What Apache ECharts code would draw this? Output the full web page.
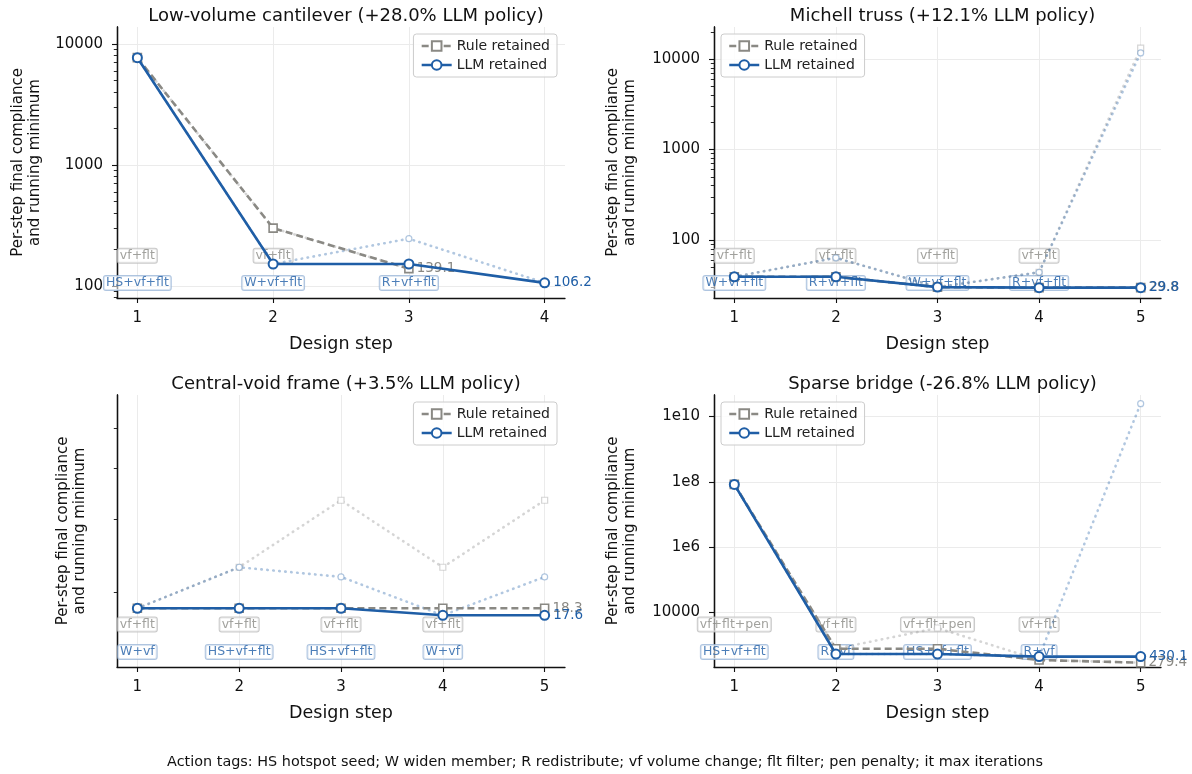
<!DOCTYPE html>
<html>
<head>
<meta charset="utf-8">
<script src="https://cdn.jsdelivr.net/npm/echarts@6/dist/echarts.min.js"></script>
<style>
html, body { margin: 0; padding: 0; background: #fff; }
#chart { width: 1192px; height: 774px; }
</style>
</head>
<body>
<div id="chart"></div>
<script>
var panelTitles = [
    'Low-volume cantilever (+28.0% LLM policy)',
    'Michell truss (+12.1% LLM policy)',
    'Central-void frame (+3.5% LLM policy)',
    'Sparse bridge (-26.8% LLM policy)'
];
var footNote = 'Action tags: HS hotspot seed; W widen member; R redistribute; vf volume change; flt filter; pen penalty; it max iterations';

var steps4 = [1, 2, 3, 4];
var steps5 = [1, 2, 3, 4, 5];

// Low-volume cantilever
var canRuleRetained = [7700, 301, 139.1];
var canLlmRetained = [7700, 152, 152, 106.2];
var canRuleStep = [7700, 301, 139.1];
var canLlmStep = [7700, 152, 246, 106.2];
var canRuleTags = ['vf+flt', 'vf+flt'];
var canLlmTags = ['HS+vf+flt', 'W+vf+flt', 'R+vf+flt'];

// Michell truss
var micRuleRetained = [39.3, 39.3, 30.2, 29.8, 29.8];
var micLlmRetained = [39.3, 39.3, 30.2, 29.8, 29.8];
var micRuleStep = [39.3, 63.7, 30.2, 44, 13200];
var micLlmStep = [39.3, 63.7, 30.2, 44, 11700];
var micRuleTags = ['vf+flt', 'vf+flt', 'vf+flt', 'vf+flt'];
var micLlmTags = ['W+vf+flt', 'R+vf+flt', 'W+vf+flt', 'R+vf+flt'];

// Central-void frame
var cvfRuleRetained = [18.3, 18.3, 18.3, 18.3, 18.3];
var cvfLlmRetained = [18.3, 18.3, 18.3, 17.6, 17.6];
var cvfRuleStep = [18.3, 23, 33.4, 23, 33.4];
var cvfLlmStep = [18.3, 23, 21.8, 17.6, 21.8];
var cvfRuleTags = ['vf+flt', 'vf+flt', 'vf+flt', 'vf+flt'];
var cvfLlmTags = ['W+vf', 'HS+vf+flt', 'HS+vf+flt', 'W+vf'];

// Sparse bridge
var brgRuleRetained = [8.3e7, 748, 748, 337, 279.4];
var brgLlmRetained = [8.3e7, 515, 515, 430.1, 430.1];
var brgRuleStep = [8.3e7, 748, 3240, 337, 279.4];
var brgLlmStep = [8.3e7, 515, 515, 430.1, 2.5e10];
var brgRuleTags = ['vf+flt+pen', 'vf+flt', 'vf+flt+pen', 'vf+flt'];
var brgLlmTags = ['HS+vf+flt', 'R+vf', 'HS+vf+flt', 'R+vf'];

// y tick marks and labels
var decadeTicks = [100, 1000, 10000];
var decadeLabels = ['100', '1000', '10000'];
var decadeMinor = [20, 30, 40, 50, 60, 70, 80, 90, 200, 300, 400, 500, 600, 700, 800, 900,
    2000, 3000, 4000, 5000, 6000, 7000, 8000, 9000, 20000];
var frameMinor = [20, 30, 40, 50];
var bridgeTicks = [1e4, 1e6, 1e8, 1e10];
var bridgeLabels = ['10000', '1e6', '1e8', '1e10'];

var ruleColor = '#8a8984';
var llmColor = '#1f5ea6';
var ruleFaint = 'rgba(150,150,150,0.4)';
var llmFaint = 'rgba(31,94,166,0.35)';
var font = 'DejaVu Sans';

var panels = [
    { grid: { left: 117, top: 27, width: 448, height: 271 }, steps: steps4, xMin: 0.85, xMax: 4.15,
      yMin: 79.6, yMax: 13800, ticks: decadeTicks, labels: decadeLabels, minor: decadeMinor, nameGap: 73,
      ruleRet: canRuleRetained, llmRet: canLlmRetained, ruleStep: canRuleStep, llmStep: canLlmStep,
      ruleTags: canRuleTags, llmTags: canLlmTags, legend: { right: 635, top: 34 } },
    { grid: { left: 714, top: 27, width: 447, height: 271 }, steps: steps5, xMin: 0.8, xMax: 5.2,
      yMin: 22.9, yMax: 22600, ticks: decadeTicks, labels: decadeLabels, minor: decadeMinor, nameGap: 75,
      ruleRet: micRuleRetained, llmRet: micLlmRetained, ruleStep: micRuleStep, llmStep: micLlmStep,
      ruleTags: micRuleTags, llmTags: micLlmTags, legend: { left: 721, top: 34 } },
    { grid: { left: 117, top: 395, width: 448, height: 272 }, steps: steps5, xMin: 0.8, xMax: 5.2,
      yMin: 13.2, yMax: 60, ticks: [], labels: [], minor: frameMinor, nameGap: 28,
      ruleRet: cvfRuleRetained, llmRet: cvfLlmRetained, ruleStep: cvfRuleStep, llmStep: cvfLlmStep,
      ruleTags: cvfRuleTags, llmTags: cvfLlmTags, legend: { right: 635, top: 402 } },
    { grid: { left: 714, top: 395, width: 447, height: 272 }, steps: steps5, xMin: 0.8, xMax: 5.2,
      yMin: 206, yMax: 4.6e10, ticks: bridgeTicks, labels: bridgeLabels, minor: [], nameGap: 75,
      ruleRet: brgRuleRetained, llmRet: brgLlmRetained, ruleStep: brgRuleStep, llmStep: brgLlmStep,
      ruleTags: brgRuleTags, llmTags: brgLlmTags, legend: { left: 721, top: 402 } }
];

function pairs(xs, ys, withLabel) {
    return ys.map(function (v, i) {
        var item = { value: [xs[i], v] };
        if (withLabel && i === ys.length - 1) item.label = { show: true };
        return item;
    });
}

function tickLabel(ticks, labels) {
    return function (v) {
        for (var k = 0; k < ticks.length; k++) {
            if (Math.abs(Math.log10(v) - Math.log10(ticks[k])) < 1e-6) return labels[k];
        }
        return '';
    };
}

var chart = echarts.init(document.getElementById('chart'));
var option = {
    animation: false,
    textStyle: { fontFamily: font },
    title: [],
    legend: [],
    grid: [],
    xAxis: [],
    yAxis: [],
    series: []
};

panels.forEach(function (p, i) {
    var g = p.grid;
    option.grid.push(g);
    option.title.push({
        text: panelTitles[i], left: g.left + g.width / 2, textAlign: 'center', top: g.top - 25,
        textStyle: { fontSize: 18, fontWeight: 'normal', color: '#111', fontFamily: font }
    });
    option.legend.push(Object.assign({
        orient: 'vertical', data: ['Rule retained', 'LLM retained'],
        itemWidth: 30, itemHeight: 12, itemGap: 5, padding: [5, 7],
        backgroundColor: 'rgba(255,255,255,0.85)', borderColor: '#cccccc', borderWidth: 1, borderRadius: 3,
        lineStyle: { width: 2.5 },
        textStyle: { fontSize: 14, color: '#222', fontFamily: font }
    }, p.legend));
    option.xAxis.push({
        type: 'value', gridIndex: i, min: p.xMin, max: p.xMax,
        name: 'Design step', nameLocation: 'middle', nameGap: 37,
        nameTextStyle: { fontSize: 17.5, color: '#111', fontFamily: font },
        axisLine: { lineStyle: { color: '#111', width: 1.3 } },
        axisTick: { customValues: p.steps, length: 5, lineStyle: { color: '#111', width: 1.1 } },
        axisLabel: { customValues: p.steps, fontSize: 15, color: '#111', margin: 13, fontFamily: font },
        splitLine: { show: true, lineStyle: { color: '#ebebeb', width: 1 } }
    });
    // major log axis
    option.yAxis.push({
        type: 'log', gridIndex: i, position: 'left', min: p.yMin, max: p.yMax,
        name: 'Per-step final compliance\nand running minimum', nameLocation: 'middle', nameGap: p.nameGap,
        nameTextStyle: { fontSize: 15, color: '#111', lineHeight: 17, fontFamily: font },
        axisLine: { show: true, lineStyle: { color: '#111', width: 1.3 } },
        axisTick: { show: p.ticks.length > 0, customValues: p.ticks.length ? p.ticks : undefined, length: 5, lineStyle: { color: '#111', width: 1.1 } },
        axisLabel: { show: p.ticks.length > 0, customValues: p.ticks.length ? p.ticks : undefined, formatter: tickLabel(p.ticks, p.labels), fontSize: 15, color: '#111', margin: 14, fontFamily: font },
        splitLine: { show: p.ticks.length > 0, lineStyle: { color: '#ebebeb', width: 1 } }
    });
    // minor log ticks
    option.yAxis.push({
        type: 'log', gridIndex: i, position: 'left', offset: 0, min: p.yMin, max: p.yMax,
        axisLine: { show: true, lineStyle: { color: '#111', width: 1.3 } },
        axisTick: { show: p.minor.length > 0, customValues: p.minor.length ? p.minor : undefined, length: 3.2, lineStyle: { color: '#111', width: 0.9 } },
        axisLabel: { show: false },
        splitLine: { show: false }
    });
    // hidden linear axis for the tag boxes
    option.yAxis.push({ type: 'value', gridIndex: i, min: 0, max: 1, show: false });

    var yMain = i * 3, yTag = i * 3 + 2;
    option.series.push({
        name: 'Rule per-step', type: 'line', xAxisIndex: i, yAxisIndex: yMain, z: 2,
        data: pairs(p.steps, p.ruleStep), symbol: 'rect', symbolSize: 6,
        itemStyle: { color: '#fff', borderColor: ruleFaint, borderWidth: 1.2 },
        lineStyle: { color: ruleFaint, width: 2.6, type: [0.5, 5.5], cap: 'round' }
    });
    option.series.push({
        name: 'LLM per-step', type: 'line', xAxisIndex: i, yAxisIndex: yMain, z: 2,
        data: pairs(p.steps, p.llmStep), symbol: 'circle', symbolSize: 6,
        itemStyle: { color: '#fff', borderColor: llmFaint, borderWidth: 1.2 },
        lineStyle: { color: llmFaint, width: 2.6, type: [0.5, 5.5], cap: 'round' }
    });
    option.series.push({
        name: 'Rule retained', type: 'line', xAxisIndex: i, yAxisIndex: yMain, z: 3,
        data: pairs(p.steps, p.ruleRet, true), symbol: 'rect', symbolSize: 8,
        itemStyle: { color: '#fff', borderColor: ruleColor, borderWidth: 1.6 },
        lineStyle: { color: ruleColor, width: 2.6, type: [7, 4] },
        label: { show: false, position: 'right', distance: 3, color: ruleColor, fontSize: 13.5, fontFamily: font,
                 formatter: function (d) { return d.value[1]; } }
    });
    option.series.push({
        name: 'LLM retained', type: 'line', xAxisIndex: i, yAxisIndex: yMain, z: 4,
        data: pairs(p.steps, p.llmRet, true), symbol: 'circle', symbolSize: 9,
        itemStyle: { color: '#fff', borderColor: llmColor, borderWidth: 2 },
        lineStyle: { color: llmColor, width: 2.6 },
        label: { show: false, position: 'right', distance: 3, color: llmColor, fontSize: 13.5, fontFamily: font,
                 formatter: function (d) { return d.value[1]; } }
    });
    [[p.ruleTags, 0.156, ruleColor, '#bdbdbd'], [p.llmTags, 0.055, llmColor, '#9bb6d8']].forEach(function (t) {
        option.series.push({
            name: 'tags', type: 'scatter', xAxisIndex: i, yAxisIndex: yTag, z: 1,
            symbolSize: 1, itemStyle: { color: 'rgba(0,0,0,0)' }, silent: true,
            data: t[0].map(function (s, k) { return { name: s, value: [p.steps[k], t[1]] }; }),
            label: {
                show: true, position: 'inside', formatter: '{b}', fontSize: 12.5, fontFamily: font, color: t[2],
                backgroundColor: 'rgba(255,255,255,0.7)', borderColor: t[3], borderWidth: 1,
                borderRadius: 2, padding: [1, 2, 0, 2]
            }
        });
    });
});

option.title.push({
    text: footNote, left: 600, textAlign: 'center', top: 750,
    textStyle: { fontSize: 14.4, fontWeight: 'normal', color: '#111', fontFamily: font }
});

chart.setOption(option);
</script>
</body>
</html>
